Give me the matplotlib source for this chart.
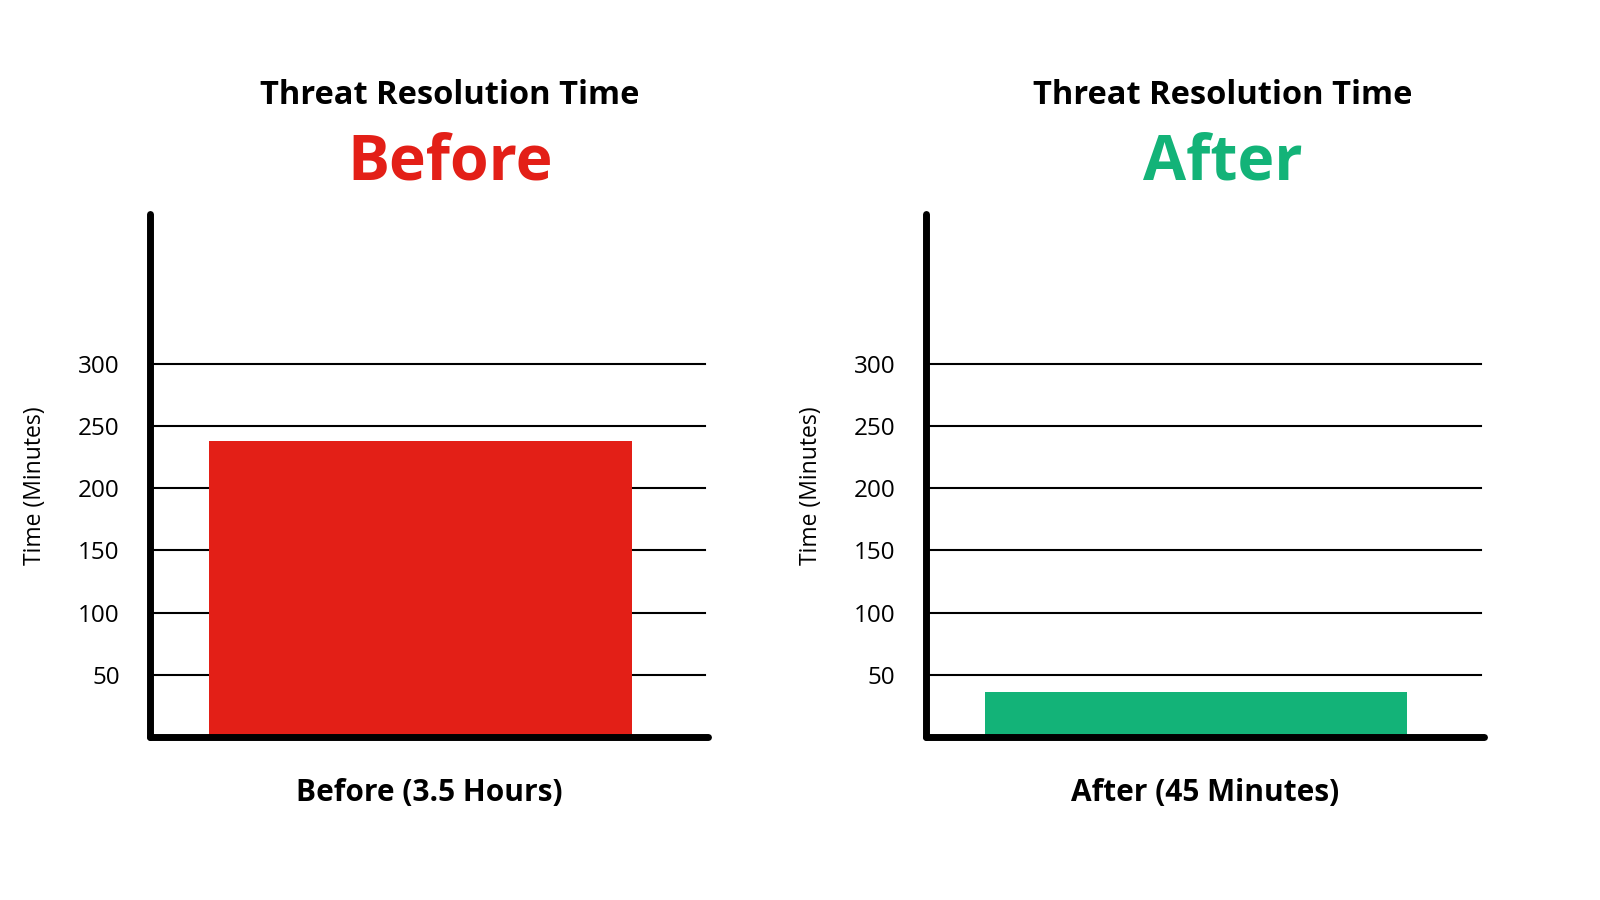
import matplotlib
matplotlib.use("Agg")
import matplotlib.pyplot as plt

plt.rcParams['font.family'] = ['Open Sans', 'DejaVu Sans']

panels = ['Before', 'After']
values = [238, 36]
xlabels = ['Before (3.5 Hours)', 'After (45 Minutes)']
colors = ['#e31f17', '#13b378']
yticks = [50, 100, 150, 200, 250, 300]

W, H = 1600, 900
k = 1600 / 1555  # reference measured at display scale
fig = plt.figure(figsize=(16, 9), dpi=100)

# axes boxes in reference pixels: left, right, top, bottom
boxes = [(146, 688, 208, 716), (900, 1442, 208, 716)]
title_x = [437, 1188]

for i in range(2):
    l, r, t, b = [v * k for v in boxes[i]]
    ax = fig.add_axes([l / W, 1 - b / H, (r - l) / W, (b - t) / H])
    ax.set_ylim(0, 421)
    ax.set_xlim(0, 1)
    for y in yticks:
        ax.axhline(y, color='black', lw=1.5, xmin=0.005, xmax=0.995, zorder=1)
    ax.bar(0.106 + 0.378, values[i], width=0.758, color=colors[i], zorder=2)
    ax.set_yticks(yticks)
    ax.tick_params(axis='y', length=0, labelsize=17.5, pad=22)
    ax.set_xticks([])
    for s in ['top', 'right']:
        ax.spines[s].set_visible(False)
    ax.spines['left'].set_linewidth(5)
    ax.spines['bottom'].set_linewidth(5)
    ax.spines['left'].set_capstyle('round')
    ax.spines['bottom'].set_capstyle('round')
    ax.set_ylabel('Time (Minutes)', fontsize=16.5, labelpad=2)
    ax.yaxis.set_label_coords(-0.185, 0.48)
    ax.set_xlabel(xlabels[i], fontsize=21.5, fontweight='bold', labelpad=30)
    fig.text(title_x[i] * k / W, 1 - 93 * k / H, 'Threat Resolution Time', ha='center', va='center',
             fontsize=23.5, fontweight='bold')
    fig.text(title_x[i] * k / W, 1 - 158 * k / H, panels[i], ha='center', va='center',
             fontsize=45, fontweight='bold', color=colors[i])

fig.savefig('out.png', dpi=100, facecolor='white')
